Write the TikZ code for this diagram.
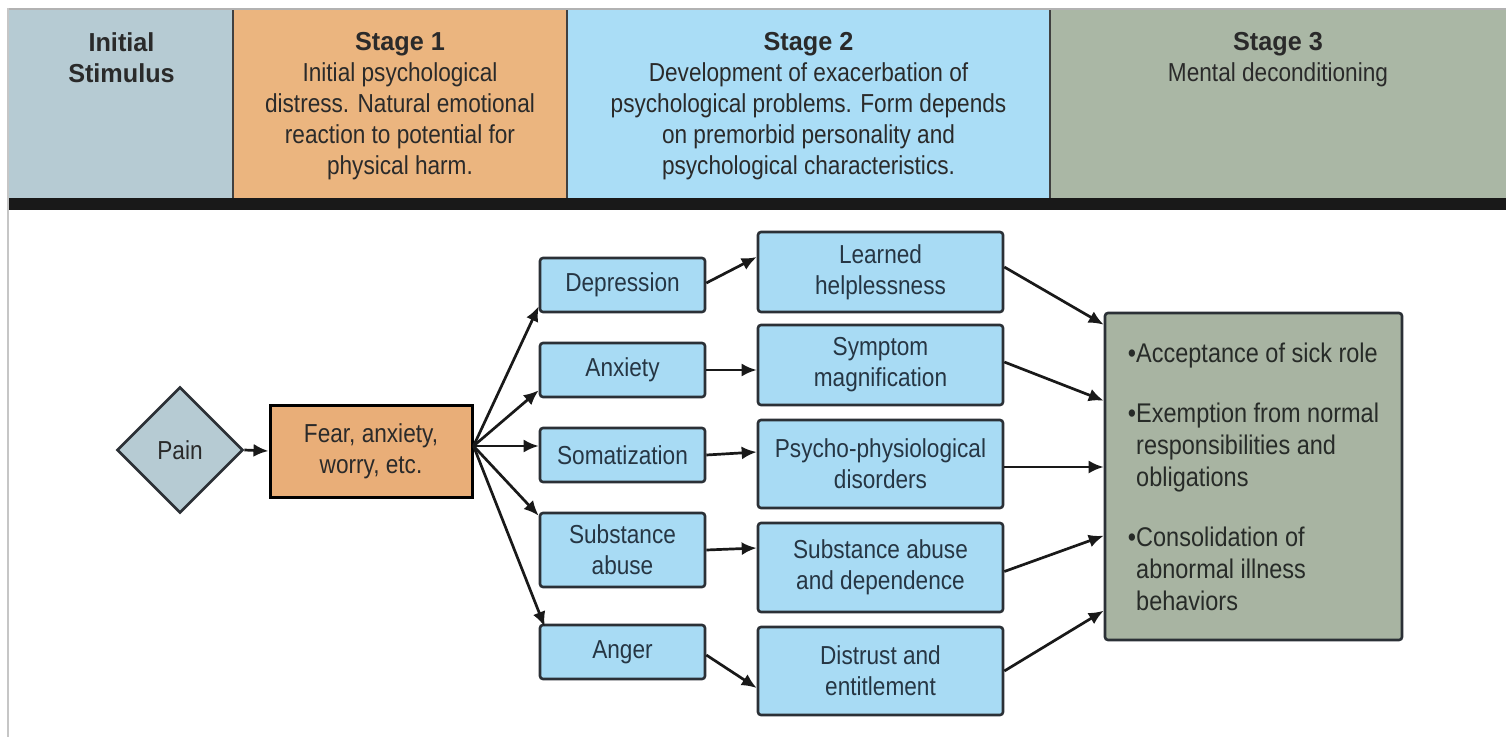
\documentclass[tikz,border=0pt]{standalone}
\usepackage{fontspec}
\setmainfont{Liberation Sans}[FakeStretch=0.87]
\newfontfamily\ttlfont{Liberation Sans}[FakeStretch=0.97]
\usetikzlibrary{shapes.geometric,arrows.meta,calc}
\definecolor{hgray}{HTML}{B6CBD3}
\definecolor{horange}{HTML}{EBB57F}
\definecolor{hblue}{HTML}{AADDF6}
\definecolor{hgreen}{HTML}{AAB7A5}
\definecolor{nfear}{HTML}{E9AE78}
\definecolor{nblue}{HTML}{A8DBF4}
\definecolor{ngreen}{HTML}{A8B4A2}
\definecolor{txt}{HTML}{2A2A2A}
\definecolor{btxt}{HTML}{263644}
\definecolor{gtxt}{HTML}{272B28}
\definecolor{edge}{HTML}{2B3036}
\begin{document}
\begin{tikzpicture}[x=1pt,y=-1pt,
  hdrtext/.style={align=center, inner sep=0pt, anchor=north, text=txt, font=\fontsize{26}{31}\selectfont},
  bluebox/.style={draw=edge, line width=2.6pt, fill=nblue, rounded corners=3pt, align=center, text=btxt,
     font=\fontsize{26}{31}\selectfont, inner sep=0pt},
  colone/.style={bluebox, minimum width=165pt},
  coltwo/.style={bluebox, minimum width=245pt},
  conn/.style={draw=black!90, line width=2.7pt, -{Latex[length=15pt,width=13pt]}}]
\useasboundingbox (0,0) rectangle (1506,737);
\fill[white] (0,0) rectangle (1506,737);
% header
\fill[hgray] (9,10) rectangle (233,198);
\fill[horange] (233,10) rectangle (567,198);
\fill[hblue] (567,10) rectangle (1050,198);
\fill[hgreen] (1050,10) rectangle (1506,198);
\draw[gray!60, line width=1.5pt] (8,9) -- (1506,9);
\foreach \xx in {233,567,1050} \draw[black!75, line width=1.5pt] (\xx,10) -- (\xx,198);
\fill[black!90] (8,198) rectangle (1506,210);
\draw[gray!45, line width=2.5pt] (8,8) -- (8,737);

\node[hdrtext] (h0) at (121.5,32) {{\ttlfont\bfseries Initial}\\{\ttlfont\bfseries Stimulus}};
\node[hdrtext] (h1) at (400,32) {{\ttlfont\bfseries Stage 1}\\Initial psychological\\distress. Natural emotional\\reaction to potential for\\physical harm.};
\node[hdrtext] (h2) at (808.5,32) {{\ttlfont\bfseries Stage 2}\\Development of exacerbation of\\psychological problems. Form depends\\on premorbid personality and\\psychological characteristics.};
\node[hdrtext] (h3) at (1278,32) {{\ttlfont\bfseries Stage 3}\\Mental deconditioning};

% nodes
\node[diamond, aspect=1, minimum size=126pt, inner sep=0pt, draw=edge, line width=2.6pt, fill=hgray,
      text=txt, font=\fontsize{26}{31}\selectfont] (pain) at (180,450) {Pain};
\node[draw=black, line width=3pt, fill=nfear, minimum width=202pt, minimum height=92pt, inner sep=0pt,
      align=center, text=txt, font=\fontsize{26}{31}\selectfont] (fear) at (371,451) {Fear, anxiety,\\worry, etc.};

\node[colone, minimum height=54pt] (dep) at (622.5,285) {Depression};
\node[colone, minimum height=54pt] (anx) at (622.5,370) {Anxiety};
\node[colone, minimum height=54pt] (som) at (622.5,455) {Somatization};
\node[colone, minimum height=74pt] (sub) at (622.5,550) {Substance\\abuse};
\node[colone, minimum height=54pt] (ang) at (622.5,652) {Anger};

\node[coltwo, minimum height=80pt] (lh) at (880.5,272) {Learned\\helplessness};
\node[coltwo, minimum height=80pt] (sm) at (880.5,365) {Symptom\\magnification};
\node[coltwo, minimum height=88pt] (pp) at (880.5,464) {Psycho-physiological\\disorders};
\node[coltwo, minimum height=89pt] (sad) at (880.5,567.5) {Substance abuse\\and dependence};
\node[coltwo, minimum height=88pt] (de) at (880.5,671) {Distrust and\\entitlement};

\node[draw=edge, line width=2.6pt, fill=ngreen, rounded corners=3pt, minimum width=297pt, minimum height=327pt,
      inner sep=0pt, text=gtxt, font=\fontsize{27}{32}\selectfont] (rb) at (1253.5,476.5)
  {\raisebox{-4pt}[\height][\depth]{\begin{tabular}{@{}l@{}l@{}}
   •&Acceptance of sick role\\[28pt]
   •&Exemption from normal\\
    &responsibilities and\\
    &obligations\\[28pt]
   •&Consolidation of\\
    &abnormal illness\\
    &behaviors
   \end{tabular}}};

% connectors
\coordinate (fo) at ([yshift=5pt]fear.east);
\draw[conn] (pain.east) -- (fear.west);
\draw[conn] (fo) -- ([yshift=7pt]dep.south west);
\draw[conn] (fo) -- ([yshift=8pt]anx.south west);
\draw[conn] (fo) -- (fo -| som.west);
\draw[conn] (fo) -- ([yshift=-4pt]sub.north west);
\draw[conn] (fo) -- ([xshift=6pt,yshift=-3pt]ang.north west);

\draw[conn] ([yshift=2pt]dep.east) -- ([yshift=15pt]lh.west);
\draw[conn] (anx.east) -- (anx.east -| sm.west);
\draw[conn] (som.east) -- ([yshift=3pt]som.east -| pp.west);
\draw[conn] (sub.east) -- ([yshift=2pt]sub.east -| sad.west);
\draw[conn] ([yshift=-3pt]ang.east) -- ([yshift=-17pt]de.west);

\draw[conn] ([yshift=5pt]lh.east) -- ([yshift=-13pt]rb.north west);
\draw[conn] ([yshift=3pt]sm.east) -- ([yshift=-89pt]rb.north west);
\draw[conn] ([yshift=-3pt]pp.east) -- ([yshift=-3pt]pp.east -| rb.west);
\draw[conn] ([yshift=-4pt]sad.east) -- ([yshift=-224pt]rb.north west);
\draw[conn] (de.east) -- ([yshift=-299pt]rb.north west);
\end{tikzpicture}
\end{document}
